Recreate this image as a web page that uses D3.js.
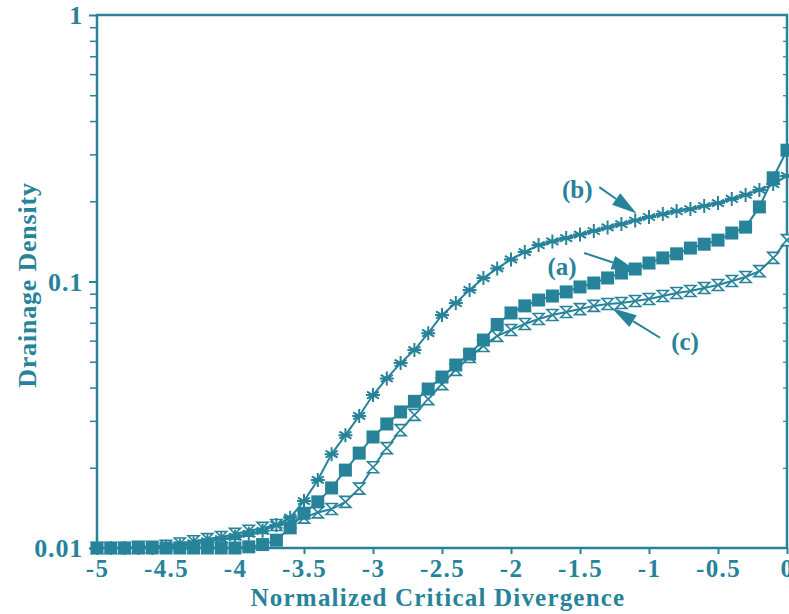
<!DOCTYPE html>
<html>
<head>
<meta charset="utf-8">
<script src="https://cdn.jsdelivr.net/npm/d3@7"></script>
<style>
  body { margin: 0; background: #fff; }
  svg text { font-family: "Liberation Serif", "DejaVu Serif", serif; font-weight: bold; fill: #26839a; }
</style>
</head>
<body>
<div id="chart"></div>
<script>
// x positions of the samples (normalized critical divergence)
var xValues = [-5.0, -4.9, -4.8, -4.7, -4.6, -4.5, -4.4, -4.3, -4.2, -4.1,
               -4.0, -3.9, -3.8, -3.7, -3.6, -3.5, -3.4, -3.3, -3.2, -3.1,
               -3.0, -2.9, -2.8, -2.7, -2.6, -2.5, -2.4, -2.3, -2.2, -2.1,
               -2.0, -1.9, -1.8, -1.7, -1.6, -1.5, -1.4, -1.3, -1.2, -1.1,
               -1.0, -0.9, -0.8, -0.7, -0.6, -0.5, -0.4, -0.3, -0.2, -0.1, 0.0];

// (a) filled squares
var seriesA = [0.0100, 0.0100, 0.0100, 0.0100, 0.0100, 0.0100, 0.0100, 0.0100, 0.0100, 0.0100,
               0.0100, 0.0101, 0.0103, 0.0107, 0.0119, 0.0135, 0.0149, 0.0168, 0.0196, 0.0227,
               0.0261, 0.0292, 0.0324, 0.0355, 0.0395, 0.0438, 0.0486, 0.0534, 0.0603, 0.0690,
               0.0762, 0.0810, 0.0852, 0.0882, 0.0914, 0.0954, 0.0987, 0.1031, 0.1076, 0.1114,
               0.1173, 0.1226, 0.1270, 0.1335, 0.1380, 0.1430, 0.1520, 0.1600, 0.1905, 0.2450, 0.3110];

// (b) asterisks
var seriesB = [0.0100, 0.0100, 0.0100, 0.0100, 0.0100, 0.0101, 0.0102, 0.0104, 0.0106, 0.0108,
               0.0110, 0.0113, 0.0116, 0.0122, 0.0130, 0.0150, 0.0180, 0.0225, 0.0265, 0.0313,
               0.0375, 0.0433, 0.0494, 0.0553, 0.0640, 0.0749, 0.0830, 0.0930, 0.1030, 0.1120,
               0.1210, 0.1290, 0.1370, 0.1413, 0.1456, 0.1500, 0.1547, 0.1595, 0.1643, 0.1694,
               0.1746, 0.1790, 0.1838, 0.1870, 0.1920, 0.1970, 0.2040, 0.2113, 0.2206, 0.2320, 0.2490];

// (c) open hourglasses
var seriesC = [0.0100, 0.0100, 0.0100, 0.0101, 0.0101, 0.0102, 0.0104, 0.0106, 0.0108, 0.0110,
               0.0113, 0.0116, 0.0119, 0.0122, 0.0125, 0.0130, 0.0136, 0.0140, 0.0149, 0.0167,
               0.0201, 0.0237, 0.0277, 0.0316, 0.0362, 0.0412, 0.0466, 0.0521, 0.0573, 0.0625,
               0.0658, 0.0693, 0.0723, 0.0749, 0.0768, 0.0788, 0.0810, 0.0823, 0.0830, 0.0845,
               0.0860, 0.0882, 0.0905, 0.0921, 0.0946, 0.0970, 0.1004, 0.1040, 0.1094, 0.1226, 0.1430];

var xTicks = [-5, -4.5, -4, -3.5, -3, -2.5, -2, -1.5, -1, -0.5, 0];
var xTickLabels = ["-5", "-4.5", "-4", "-3.5", "-3", "-2.5", "-2", "-1.5", "-1", "-0.5", "0"];
var yMajorTicks = [0.01, 0.1, 1];
var yTickLabels = ["0.01", "0.1", "1"];

var color = "#26839a";
var width = 789, height = 614;
var margin = {top: 15, right: 2, bottom: 66, left: 97};
var plotW = width - margin.left - margin.right;
var plotH = height - margin.top - margin.bottom;

var x = d3.scaleLinear().domain([-5, 0]).range([0, plotW]);
var y = d3.scaleLog().domain([0.01, 1]).range([plotH, 0]);

var svg = d3.select("#chart")
  .append("svg")
    .attr("width", width)
    .attr("height", height);

var g = svg.append("g")
  .attr("transform", "translate(" + margin.left + "," + margin.top + ")");

// minor log ticks 2..9 in each decade
var yMinorTicks = [];
[0.01, 0.1].forEach(function(d){
  for (var k = 2; k <= 9; k++) yMinorTicks.push(d * k);
});

// left axis
var yAxis = d3.axisLeft(y).tickValues(yMajorTicks).tickFormat(function(d, i){ return yTickLabels[i]; })
  .tickSize(8).tickPadding(6);
var yAxisG = g.append("g").call(yAxis);
yAxisG.select(".domain").remove();
yAxisG.selectAll("line").attr("stroke", color).attr("stroke-width", 2);
yAxisG.selectAll("text").attr("font-size", 26).attr("letter-spacing", 0.8).attr("dy", "0.34em");

g.append("g").call(d3.axisLeft(y).tickValues(yMinorTicks).tickFormat("").tickSize(7))
  .call(function(s){ s.select(".domain").remove(); s.selectAll("line").attr("stroke", color).attr("stroke-width", 1.5); });

// right side small ticks
g.append("g").attr("transform", "translate(" + plotW + ",0)")
  .call(d3.axisRight(y).tickValues(yMinorTicks).tickFormat("").tickSize(-4))
  .call(function(s){ s.select(".domain").remove(); s.selectAll("line").attr("stroke", color).attr("stroke-width", 1.2); });

// bottom axis
var xAxis = d3.axisBottom(x).tickValues(xTicks).tickFormat(function(d, i){ return xTickLabels[i]; })
  .tickSize(6).tickPadding(3);
var xAxisG = g.append("g").attr("transform", "translate(0," + plotH + ")").call(xAxis);
xAxisG.select(".domain").remove();
xAxisG.selectAll("line").attr("stroke", color).attr("stroke-width", 2);
xAxisG.selectAll("text").attr("font-size", 25).attr("letter-spacing", 1.4).attr("dy", "0.8em");

// frame
g.append("rect")
  .attr("x", 0).attr("y", 0)
  .attr("width", plotW).attr("height", plotH)
  .attr("fill", "none")
  .attr("stroke", color)
  .attr("stroke-width", 2.5);

// axis titles
svg.append("text")
  .attr("x", 438).attr("y", 606)
  .attr("text-anchor", "middle")
  .attr("font-size", 25)
  .attr("letter-spacing", 1.2)
  .text("Normalized Critical Divergence");

svg.append("text")
  .attr("transform", "translate(36,285) rotate(-90)")
  .attr("text-anchor", "middle")
  .attr("font-size", 26)
  .attr("letter-spacing", 0.8)
  .text("Drainage Density");

// series
var line = d3.line()
  .x(function(d){ return x(d[0]); })
  .y(function(d){ return y(d[1]); });

function pairs(vals){ return xValues.map(function(xv, i){ return [xv, vals[i]]; }); }

var dataA = pairs(seriesA), dataB = pairs(seriesB), dataC = pairs(seriesC);

[dataC, dataA, dataB].forEach(function(data){
  g.append("path")
    .datum(data)
    .attr("d", line)
    .attr("fill", "none")
    .attr("stroke", color)
    .attr("stroke-width", 2);
});

// hourglass markers
var hourglass = "M-5.5,-5.5 L5.5,-5.5 L-5.5,5.5 L5.5,5.5 Z";
g.selectAll(".mc").data(dataC).enter().append("path")
  .attr("class", "mc")
  .attr("transform", function(d){ return "translate(" + x(d[0]) + "," + y(d[1]) + ")"; })
  .attr("d", hourglass)
  .attr("fill", "#fff")
  .attr("stroke", color)
  .attr("stroke-width", 1.6);

// square markers
g.selectAll(".ma").data(dataA).enter().append("rect")
  .attr("class", "ma")
  .attr("x", function(d){ return x(d[0]) - 6.5; })
  .attr("y", function(d){ return y(d[1]) - 6.5; })
  .attr("width", 13).attr("height", 13)
  .attr("fill", color);

// asterisk markers
var asterisk = "M0,-7 L0,7 M-6,-3.5 L6,3.5 M-6,3.5 L6,-3.5 M-7,0 L7,0";
g.selectAll(".mb").data(dataB).enter().append("path")
  .attr("class", "mb")
  .attr("transform", function(d){ return "translate(" + x(d[0]) + "," + y(d[1]) + ")"; })
  .attr("d", asterisk)
  .attr("fill", "none")
  .attr("stroke", color)
  .attr("stroke-width", 2);

// annotations: label position, arrow start and arrow tip in data units
var annLabels = ["(a)", "(b)", "(c)"];
var annLabelPos = [[-1.63, 0.1144], [-1.52, 0.222], [-0.739, 0.0597]];
var annStart = [[-1.47, 0.128], [-1.36, 0.226], [-0.92, 0.0615]];
var annTip = [[-1.09, 0.110], [-1.09, 0.180], [-1.27, 0.0795]];

annLabels.forEach(function(lbl, i){
  var x0 = x(annStart[i][0]), y0 = y(annStart[i][1]);
  var x1 = x(annTip[i][0]), y1 = y(annTip[i][1]);
  var ang = Math.atan2(y1 - y0, x1 - x0);
  var headLen = 25, headW = 7;
  var bx = x1 - headLen * Math.cos(ang), by = y1 - headLen * Math.sin(ang);
  g.append("line")
    .attr("x1", x0).attr("y1", y0).attr("x2", bx).attr("y2", by)
    .attr("stroke", color).attr("stroke-width", 2);
  var px = -Math.sin(ang) * headW, py = Math.cos(ang) * headW;
  g.append("path")
    .attr("d", "M" + x1 + "," + y1 + " L" + (bx + px) + "," + (by + py) + " L" + (bx - px) + "," + (by - py) + " Z")
    .attr("fill", color);
  g.append("text")
    .attr("x", x(annLabelPos[i][0])).attr("y", y(annLabelPos[i][1]))
    .attr("text-anchor", "middle")
    .attr("dy", "0.35em")
    .attr("font-size", 25)
    .text(lbl);
});
</script>
</body>
</html>
